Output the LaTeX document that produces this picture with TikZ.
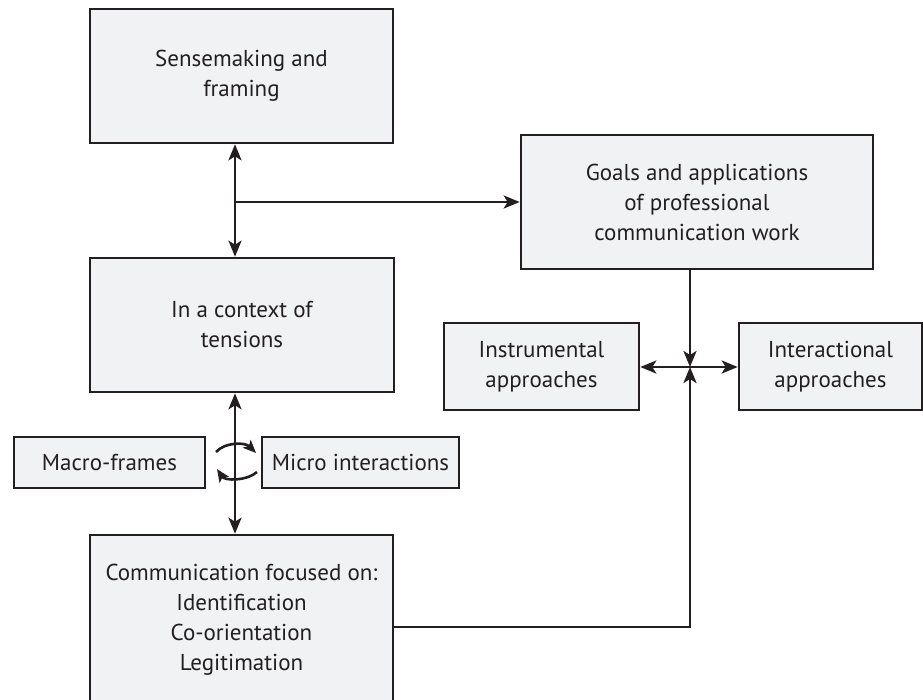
\documentclass[tikz,border=0pt]{standalone}
\usepackage{fontspec}
\setmainfont{PT Sans}
\usetikzlibrary{arrows.meta}
\definecolor{ink}{HTML}{231F20}
\definecolor{boxfill}{HTML}{F1F2F4}
\begin{document}
\begin{tikzpicture}[x=1pt,y=-1pt,
  box/.style={draw=ink, fill=boxfill, line width=2.6pt, align=center,
    text=ink, inner sep=0pt, font=\fontsize{23}{30}\selectfont},
  conn/.style={draw=ink, line width=2.6pt},
  tip/.style={-{Stealth[length=16pt,width=13pt,inset=4pt]}},
  twotip/.style={{Stealth[length=16pt,width=13pt,inset=4pt]}-{Stealth[length=16pt,width=13pt,inset=4pt]}},
  loopar/.style={draw=ink, line width=2.6pt, -{Stealth[length=13pt,width=11pt,inset=3pt]}}]
\useasboundingbox (0,0) rectangle (923,699);

% boxes
\node[box, minimum width=303pt, minimum height=134pt] (sense) at (241.5,76)
  {Sensemaking and\\framing};
\node[box, minimum width=304pt, minimum height=134pt] (context) at (242,325)
  {In a context of\\tensions};
\node[box, minimum width=303pt, minimum height=170pt] (comm) at (241.5,620)
  {Communication focused on:\\Identification\\Co-orientation\\Legitimation};
\node[box, minimum width=352pt, minimum height=134pt] (goals) at (697,202)
  {Goals and applications\\of professional\\communication work};
\node[box, minimum width=195pt, minimum height=87pt] (instr) at (541.5,366.5)
  {Instrumental\\approaches};
\node[box, minimum width=183pt, minimum height=87pt] (inter) at (830.5,366.5)
  {Interactional\\approaches};
\node[box, minimum width=191pt, minimum height=51pt] (macro) at (109.5,462.5)
  {Macro-frames};
\node[box, minimum width=197pt, minimum height=51pt] (micro) at (360.5,462.5)
  {Micro interactions};

% junction points
\coordinate (axis) at (235,0);
\coordinate (branch) at (235,202);
\coordinate (jn) at (690,367);
\coordinate (loop) at (235,462);

% left spine
\draw[conn, twotip] (sense.south -| axis) -- (context.north -| axis);
\draw[conn, tip] (branch) -- (goals.west |- branch);
\draw[conn, twotip] (context.south -| axis) -- (comm.north -| axis);

% right cross
\draw[conn, tip] (goals.south -| jn) -- (jn);
\draw[conn, tip] (comm.east |- 0,627) -| (jn);
\draw[conn, tip] (jn) -- (instr.east |- jn);
\draw[conn, tip] (jn) -- (inter.west |- jn);

% circular arrows between macro and micro
\draw[loopar] ([shift={(-19,-10)}]loop) .. controls ([shift={(-10,-20)}]loop) and ([shift={(10,-20)}]loop) .. ([shift={(21,-9)}]loop);
\draw[loopar] ([shift={(22,10)}]loop) .. controls ([shift={(12,19)}]loop) and ([shift={(-10,19)}]loop) .. ([shift={(-18,7)}]loop);
\end{tikzpicture}
\end{document}
